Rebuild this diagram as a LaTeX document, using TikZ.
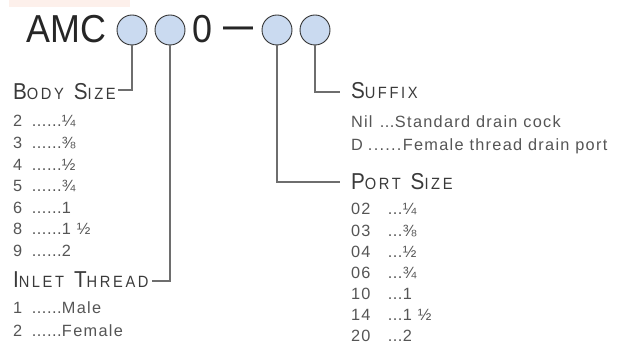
\documentclass[tikz,border=0pt]{standalone}
\usepackage{fontspec}
\setmainfont{Liberation Sans}
\newfontfamily\lsf[LetterSpace=8]{Liberation Sans}
\newfontfamily\hsf[FakeStretch=0.9,LetterSpace=16]{Liberation Sans}
\newfontfamily\tsf[FakeStretch=0.92]{Liberation Sans}
\definecolor{pinkbar}{HTML}{FDF0EB}
\definecolor{circfill}{HTML}{CADAF0}
\definecolor{headcol}{HTML}{3A3A3A}
\definecolor{listcol}{HTML}{555555}
\definecolor{linecol}{HTML}{6E6E6E}
\newcommand\mysc[2]{{\fontsize{23}{23}\selectfont #1}{\fontsize{16.3}{16}\selectfont #2}}
\newcommand\wgap{\hspace{10pt}}
\newcommand\myitem[3]{\makebox[#1][l]{#2}#3}
\newcommand\dt{\makebox[5pt][l]{.}}
\newcommand\dT{\makebox[5.8pt][l]{.}}
\begin{document}
\begin{tikzpicture}[x=1pt,y=-1pt,
  txt/.style={inner sep=0pt,outer sep=0pt,anchor=base west},
  head/.style={txt,text=headcol,font=\hsf},
  lst/.style={txt,text=listcol,text depth=0pt,font=\lsf\fontsize{16.3}{16}\selectfont},
  circ/.style={circle,draw=black!80,fill=circfill,line width=0.9pt,minimum size=30pt,inner sep=0pt},
  conn/.style={draw=linecol,line width=1.2pt}]
\useasboundingbox (0,0) rectangle (625,344);
\fill[pinkbar] (9,0) rectangle (130,7);
% title
\node[txt,text=black!85,font=\tsf\fontsize{39}{39}\selectfont] (amc) at (27,43) {AMC};
\node[circ] (c1) at (132,30) {};
\node[circ] (c2) at (170,30) {};
\node[txt,text=black!85,font=\tsf\fontsize{39}{39}\selectfont] (zero) at (192,43) {0};
\node[txt,text=black!85,font=\bfseries\fontsize{30}{30}\selectfont] (dash) at (223,36.5) {—};
\node[circ] (c3) at (277,30) {};
\node[circ] (c4) at (315,30) {};
% headings
\node[head] (body) at (13,100) {\mysc{B}{ODY}\wgap\mysc{S}{IZE}};
\node[head] (inlet) at (13,288) {\mysc{I}{NLET}\wgap\mysc{T}{HREAD}};
\node[head] (suffix) at (351,99) {\mysc{S}{UFFIX}};
\node[head] (port) at (351,190) {\mysc{P}{ORT}\wgap\mysc{S}{IZE}};
% connectors
\coordinate (k1) at (118,90);
\coordinate (k2) at (152,281);
\coordinate (k3) at (340,182);
\coordinate (k4) at (340,92);
\draw[conn] (c1.south) |- (k1);
\draw[conn] (c2.south) |- (k2);
\draw[conn] (c3.south) |- (k3);
\draw[conn] (c4.south) |- (k4);
% body size list
\node[lst] (b1) at (13,127) {\myitem{19pt}{2}{\dt\dt\dt\dt\dt\dt¼}};
\node[lst] (b2) at (13,148.6) {\myitem{19pt}{3}{\dt\dt\dt\dt\dt\dt⅜}};
\node[lst] (b3) at (13,170.2) {\myitem{19pt}{4}{\dt\dt\dt\dt\dt\dt½}};
\node[lst] (b4) at (13,191.8) {\myitem{19pt}{5}{\dt\dt\dt\dt\dt\dt¾}};
\node[lst] (b5) at (13,213.4) {\myitem{19pt}{6}{\dt\dt\dt\dt\dt\dt1}};
\node[lst] (b6) at (13,235) {\myitem{19pt}{8}{\dt\dt\dt\dt\dt\dt1 ½}};
\node[lst] (b7) at (13,256.6) {\myitem{19pt}{9}{\dt\dt\dt\dt\dt\dt2}};
% inlet thread list
\node[lst] (i1) at (13,314) {\myitem{19pt}{1}{\dt\dt\dt\dt\dt\dt Male}};
\node[lst] (i2) at (13,337) {\myitem{19pt}{2}{\dt\dt\dt\dt\dt\dt Female}};
% suffix list
\node[lst] (s1) at (351,128) {\myitem{29pt}{Nil}{\dt\dt\dt Standard drain cock}};
\node[lst] (s2) at (351,151) {\myitem{17pt}{D}{\dT\dT\dT\dT\dT\dT Female thread drain port}};
% port size list
\node[lst] (p1) at (351,215) {\myitem{37pt}{02}{\dt\dt\dt¼}};
\node[lst] (p2) at (351,236.2) {\myitem{37pt}{03}{\dt\dt\dt⅜}};
\node[lst] (p3) at (351,257.4) {\myitem{37pt}{04}{\dt\dt\dt½}};
\node[lst] (p4) at (351,278.6) {\myitem{37pt}{06}{\dt\dt\dt¾}};
\node[lst] (p5) at (351,299.8) {\myitem{37pt}{10}{\dt\dt\dt1}};
\node[lst] (p6) at (351,321) {\myitem{37pt}{14}{\dt\dt\dt1 ½}};
\node[lst] (p7) at (351,342) {\myitem{37pt}{20}{\dt\dt\dt2}};
\end{tikzpicture}
\end{document}
